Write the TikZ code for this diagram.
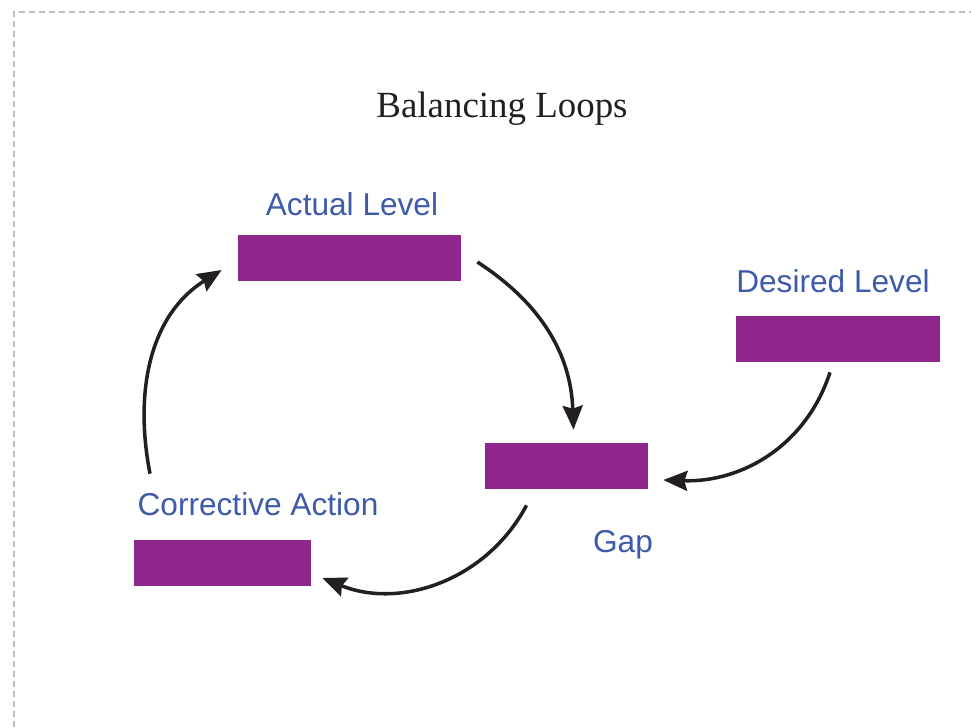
\documentclass[tikz,border=0pt]{standalone}
\usepackage{fontspec}
\setmainfont{Liberation Serif}
\setsansfont{Liberation Sans}
\usetikzlibrary{arrows,arrows.meta,positioning,calc}
\definecolor{boxpurple}{HTML}{8E268B}
\definecolor{labelblue}{HTML}{3E5BA9}
\definecolor{inkblack}{HTML}{231F20}
\definecolor{framegray}{HTML}{BDBDBF}
\tikzset{
    level/.style = {fill=boxpurple, rectangle, inner sep=0pt,
        minimum height=0.92cm},
    lbl/.style = {text=labelblue, font=\sffamily\fontsize{18}{20}\selectfont, inner sep=1pt},
    flow/.style = {draw=inkblack, line width=2pt, -{Stealth[length=4.8mm,width=4mm,inset=0.6mm]}}
}

\begin{document}
\begin{tikzpicture}[auto, node distance=1.08cm]
        \useasboundingbox (0,0) rectangle (19.42,-14.54);
        \draw[framegray, line width=0.8pt, dash pattern=on 0.12cm off 0.08cm] (0.28,-14.54) -- (0.28,-0.24) -- (19.42,-0.24);
        \node [text=inkblack, font=\fontsize{21}{24}\selectfont] (title) at (10.04,-2.18) {Balancing Loops};
        \node [level, minimum width=4.46cm] (actual) at (6.99,-5.16) {};
        \node [lbl, above of=actual, xshift=0.05cm] (actuallbl) {Actual Level};
        \node [level, minimum width=4.08cm] (desired) at (16.76,-6.78) {};
        \node [lbl, above of=desired, node distance=1.16cm, xshift=-0.1cm] (desiredlbl) {Desired Level};
        \node [level, minimum width=3.26cm] (gap) at (11.33,-9.32) {};
        \node [lbl, below of=gap, node distance=1.58cm, xshift=1.13cm] (gaplbl) {Gap};
        \node [level, minimum width=3.54cm] (corr) at (4.45,-11.26) {};
        \node [lbl, above of=corr, node distance=1.18cm, xshift=0.71cm] (corrlbl) {Corrective Action};
        % loop arrows
        \draw[flow] ([shift={(0.32,-0.08)}]actual.east) to[out=-33,in=92] ([shift={(0.14,0.26)}]gap.north);
        \draw[flow] ([shift={(-0.16,-0.2)}]desired.south) to[out=-108,in=-2] ([shift={(0.3,-0.28)}]gap.east);
        \draw[flow] ([shift={(-0.8,-0.32)}]gap.south) to[out=-118,in=-22] ([shift={(0.22,-0.3)}]corr.east);
        \draw[flow] ([shift={(-1.45,1.32)}]corr.north) to[out=101,in=212] ([shift={(-0.32,-0.24)}]actual.west);
\end{tikzpicture}
\end{document}
